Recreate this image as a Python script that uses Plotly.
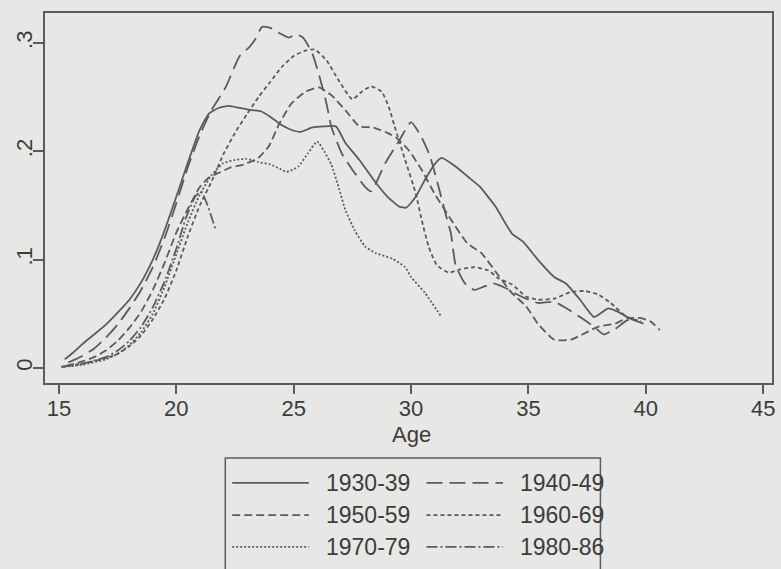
import plotly.graph_objects as go

# Age-specific rates by birth cohort (kernel-smoothed curves)
age_1930 = [15.25, 15.6, 16.0, 16.5, 17.0, 17.5, 18.0, 18.5, 19.0, 19.4, 20.0, 20.5, 21.0, 21.4, 21.8,
            22.25, 22.7, 23.2, 23.6, 24.0, 24.5, 25.0, 25.3, 25.8, 26.3, 26.8, 27.2, 27.8, 28.5, 29.0,
            29.5, 29.8, 30.2, 30.6, 31.0, 31.3, 31.9, 32.4, 32.9, 33.6, 34.3, 34.8, 35.4, 36.1, 36.6,
            37.2, 37.8, 38.4, 38.8, 39.3, 39.9]
rate_1930 = [.008, .014, .022, .031, .040, .051, .063, .079, .100, .121, .158, .190, .220, .235, .240,
             .242, .240, .238, .237, .232, .224, .219, .218, .222, .223, .223, .208, .192, .171, .158,
             .149, .148, .158, .174, .188, .194, .186, .177, .168, .149, .124, .116, .100, .084, .078,
             .063, .047, .055, .052, .046, .041]

age_1940 = [15.4, 16.0, 16.5, 17.0, 17.5, 18.0, 18.5, 19.0, 19.5, 20.0, 20.5, 21.0, 21.5, 22.1, 22.7,
            23.1, 23.35, 23.66, 24.0, 24.4, 24.8, 25.1, 25.4, 25.8, 26.1, 26.4, 26.6, 27.05, 27.5, 28.05,
            28.3, 28.9, 29.5, 30.0, 30.4, 30.8, 31.2, 31.5, 31.7, 31.9, 32.3, 32.7, 33.1, 33.5, 34.0,
            34.5, 34.9, 35.4, 36.1, 36.7, 37.2, 37.8, 38.2, 38.7, 39.2, 39.6]
rate_1940 = [.005, .011, .018, .028, .040, .055, .072, .093, .120, .152, .186, .215, .238, .259, .288,
             .296, .303, .315, .314, .309, .305, .308, .305, .290, .269, .244, .223, .198, .183, .167,
             .163, .189, .210, .227, .215, .196, .165, .140, .124, .095, .078, .072, .075, .078, .074,
             .068, .064, .060, .061, .054, .047, .038, .031, .036, .044, .045]

age_1950 = [15.3, 16.0, 16.5, 17.0, 17.5, 18.0, 18.5, 19.0, 19.5, 20.0, 20.4, 21.0, 21.4, 21.8, 22.3,
            22.9, 23.5, 23.95, 24.4, 24.9, 25.5, 26.07, 26.6, 27.2, 27.8, 28.4, 29.0, 29.4, 29.9, 30.45,
            31.0, 31.7, 32.4, 33.0, 33.7, 34.3, 34.9, 35.4, 36.1, 36.8, 37.4, 37.95, 38.7, 39.2, 39.8,
            40.2, 40.6]
rate_1950 = [.002, .006, .010, .016, .025, .037, .052, .072, .097, .125, .143, .167, .176, .180, .185,
             .188, .194, .205, .226, .244, .255, .259, .252, .238, .223, .222, .217, .212, .201, .183,
             .161, .137, .115, .106, .086, .069, .057, .041, .026, .026, .032, .038, .041, .046, .046,
             .043, .035]

age_1960 = [15.1, 16.0, 17.0, 17.5, 18.0, 18.5, 19.0, 19.5, 20.0, 20.5, 21.0, 21.5, 22.0, 22.5, 23.0,
            23.5, 24.0, 24.5, 25.0, 25.5, 25.9, 26.4, 26.9, 27.5, 27.9, 28.3, 28.75, 29.05, 29.3, 29.75,
            30.2, 30.45, 30.75, 31.1, 31.6, 32.1, 32.7, 33.3, 33.7, 34.3, 34.9, 35.4, 36.1, 36.8, 37.4,
            37.95, 38.5, 39.2, 39.8]
rate_1960 = [.001, .004, .009, .013, .020, .030, .045, .064, .090, .122, .150, .172, .197, .217, .234,
             .250, .264, .278, .288, .293, .294, .284, .266, .248, .255, .260, .255, .241, .223, .192,
             .161, .137, .112, .095, .088, .091, .093, .090, .083, .077, .066, .063, .064, .070, .071,
             .068, .060, .047, .043]

age_1970 = [15.2, 16.0, 17.0, 17.5, 18.0, 18.5, 19.0, 19.5, 20.0, 20.5, 21.0, 21.5, 22.0, 22.5, 23.0,
            23.5, 24.0, 24.4, 24.7, 25.2, 25.6, 26.0, 26.3, 26.6, 26.9, 27.2, 27.6, 28.05, 28.5, 29.2,
            29.75, 30.0, 30.6, 31.3]
rate_1970 = [.001, .003, .008, .013, .021, .033, .050, .075, .105, .135, .160, .178, .189, .192, .193,
             .190, .188, .184, .181, .186, .198, .209, .200, .188, .168, .146, .127, .112, .106, .101,
             .093, .084, .069, .047]

age_1980 = [15.1, 16.0, 17.0, 17.5, 18.0, 18.5, 19.0, 19.5, 20.0, 20.4, 20.8, 21.05, 21.3, 21.7]
rate_1980 = [.001, .004, .010, .016, .025, .038, .056, .080, .110, .138, .158, .163, .152, .126]

cohorts = ["1930-39", "1940-49", "1950-59", "1960-69", "1970-79", "1980-86"]
ages = [age_1930, age_1940, age_1950, age_1960, age_1970, age_1980]
rates = [rate_1930, rate_1940, rate_1950, rate_1960, rate_1970, rate_1980]
dashes = ["solid", "16px,7px", "8px,4px", "4px,3px", "2px,2px", "11px,3px,2px,3px"]

x_ticks = [15, 20, 25, 30, 35, 40, 45]
y_ticks = [0, 0.1, 0.2, 0.3]
y_tick_text = ["0", ".1", ".2", ".3"]

INK = "#5b5b5b"
TEXT = "#3c3c3c"
BG = "#e7e7e5"
FONT = "Liberation Sans, Arial, sans-serif"

fig = go.Figure()
for name, x, y, d in zip(cohorts, ages, rates, dashes):
    fig.add_trace(go.Scatter(
        x=x, y=y, mode="lines", name=name, showlegend=False,
        line=dict(color=INK, width=1.8, dash=d, shape="spline", smoothing=0.5),
    ))

# Boxed two-column key below the plot
key_left, key_right, key_top, key_bottom = 0.248, 0.764, -0.203, -0.54
fig.add_shape(type="rect", xref="paper", yref="paper",
              x0=key_left, x1=key_right, y0=key_bottom, y1=key_top,
              line=dict(color=INK, width=1.5), fillcolor="rgba(0,0,0,0)")
row_y = [-0.270, -0.357, -0.443]
col_x = [(0.2575, 0.363, 0.3836), (0.5247, 0.6301, 0.6507)]
for i, (name, d) in enumerate(zip(cohorts, dashes)):
    r, c = divmod(i, 2)
    x0, x1, xt = col_x[c]
    fig.add_shape(type="line", xref="paper", yref="paper",
                  x0=x0, x1=x1, y0=row_y[r], y1=row_y[r],
                  line=dict(color=INK, width=1.8, dash=d))
    fig.add_annotation(xref="paper", yref="paper", x=xt, y=row_y[r],
                       text=name, showarrow=False, xanchor="left", yanchor="middle",
                       font=dict(family=FONT, size=23, color=TEXT))

# x-axis title
fig.add_annotation(xref="paper", yref="paper", x=0.504, y=-0.139,
                   text="Age", showarrow=False, xanchor="center", yanchor="middle",
                   font=dict(family=FONT, size=22, color=TEXT))

fig.update_layout(
    width=781, height=569,
    margin=dict(l=45, r=6, t=13, b=186),
    paper_bgcolor=BG, plot_bgcolor=BG,
    font=dict(family=FONT, size=22, color=TEXT),
)
fig.update_xaxes(
    range=[14.406, 45.378], tickvals=x_ticks, ticks="outside", ticklen=9, tickwidth=1.5,
    tickcolor=INK, showline=True, linecolor=INK, linewidth=1.5, mirror=True,
    showgrid=False, zeroline=False, ticklabelstandoff=-4,
)
fig.update_yaxes(
    range=[-0.0139, 0.3277], tickvals=y_ticks, ticktext=y_tick_text, tickangle=-90,
    ticks="outside", ticklen=10, tickwidth=1.5, tickcolor=INK,
    showline=True, linecolor=INK, linewidth=1.5, mirror=True,
    showgrid=False, zeroline=False, ticklabelstandoff=-8,
)

fig.write_html("out.html")
